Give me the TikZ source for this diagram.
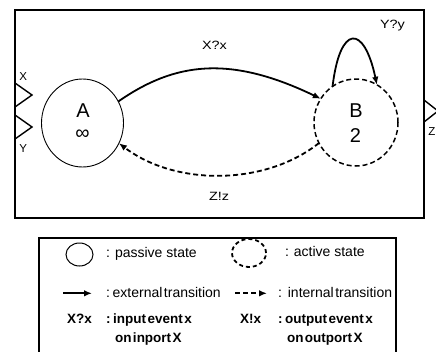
\documentclass[tikz,border=0pt]{standalone}
\usepackage{fontspec}
\setmainfont{Liberation Sans}
\newfontfamily\widefont[FakeStretch=1.2]{Liberation Sans}
\usetikzlibrary{arrows.meta,shapes.geometric}
\begin{document}
\begin{tikzpicture}[x=1pt,y=-1pt,
  every node/.style={inner sep=0pt,outer sep=0pt},
  frame/.style={line width=1.8pt},
  port/.style={line width=1.4pt},
  passive/.style={draw,ellipse,line width=0.9pt},
  active/.style={draw,ellipse,line width=1.5pt,dash pattern=on 5pt off 3pt},
  ext/.style={line width=1.8pt,-{Latex[length=8pt,width=6.5pt]}},
  int/.style={ext,dash pattern=on 5pt off 3pt},
  lbl/.style={anchor=base,font=\widefont\fontsize{12}{14}\selectfont},
  portlbl/.style={anchor=base,font=\fontsize{11.5}{13}\selectfont},
  big/.style={font=\fontsize{20}{24}\selectfont},
  legtxt/.style={anchor=base west,font=\fontsize{14}{16}\selectfont},
  legbold/.style={anchor=base west,font=\bfseries\fontsize{13.5}{16}\selectfont},
  tight/.style={execute at begin node={\spaceskip=1.5pt\relax}}
]
\useasboundingbox (0,0) rectangle (436,351);
\clip (0,0) rectangle (436,351);

% main frame and ports
\draw[frame] (15,10) rectangle (424,218);
\draw[port] (15,83) -- (32,95) -- (15,107);
\draw[port] (15,115) -- (32,127) -- (15,139);
\draw[port] (424,100) -- (438,111) -- (424,122);
\node[portlbl] (px) at (23.3,80) {X};
\node[portlbl] (py) at (23.3,152.7) {Y};
\node[portlbl] (pz) at (432,135.5) {Z};

% states
\node[passive,minimum width=82pt,minimum height=88pt] (A) at (82.5,123) {};
\node[big] (An) at (83,110.5) {A};
\node[big] (Ai) at (82.5,134.5) {∞};
\node[active,minimum width=84pt,minimum height=87pt] (B) at (356,122.5) {};
\node[big] (Bn) at (356,111) {B};
\node[big] (Bi) at (355.5,135.5) {2};

% transitions
\draw[ext] (A.31) .. controls (175,62) and (230,55) .. (B.146);
\draw[ext] (B.123) .. controls (340,24) and (364,24) .. (B.61);
\draw[int] (B.209) .. controls (265,186) and (175,186) .. (A.331);
\node[lbl] (lx) at (214.5,49.3) {X?x};
\node[lbl] (ly) at (392.5,28) {Y?y};
\node[lbl] (lz) at (219,200) {Z!z};

% legend
\draw[line width=1.5pt] (39,238) rectangle (396,360);
\node[passive,line width=1pt,minimum width=27pt,minimum height=23pt] (lp) at (79.5,254.5) {};
\node[legtxt] (lpt) at (106,257) {: passive state};
\node[active,line width=1.8pt,dash pattern=on 4pt off 3pt,minimum width=34pt,minimum height=28pt] (la) at (249,253) {};
\node[legtxt] (lat) at (285,256.7) {:\hspace{5pt}active state};
\coordinate (le1) at (63,293.3);
\coordinate (le2) at (92,293.3);
\draw[ext] (le1) -- (le2);
\node[legtxt,tight] (let) at (106,297.7) {: external transition};
\coordinate (li1) at (235,293.3);
\coordinate (li2) at (267,293.3);
\draw[int] (li1) -- (li2);
\node[legtxt,tight] (lit) at (278,297.7) {:\hspace{6pt}internal transition};
\node[legbold] (lq) at (67,323.3) {X?x};
\node[legbold,tight] (lqt1) at (106,323.3) {: input event x};
\node[legbold,tight] (lqt2) at (115,342.7) {on inport X};
\node[legbold] (le) at (240,323.3) {X!x};
\node[legbold,tight] (let1) at (278,323.3) {: output event x};
\node[legbold,tight] (let2) at (287,342.7) {on outport X};
\end{tikzpicture}
\end{document}
